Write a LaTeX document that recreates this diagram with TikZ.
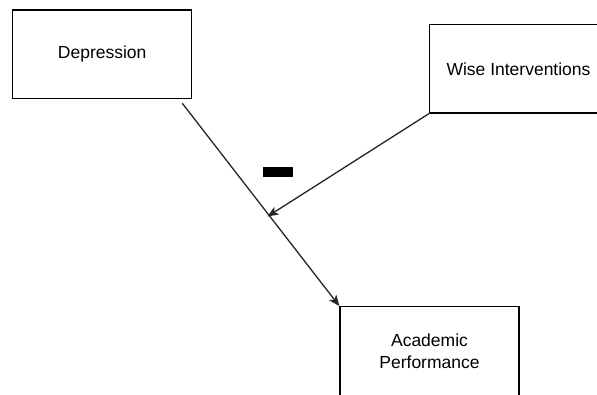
\documentclass[tikz,border=0pt]{standalone}
\usepackage{fontspec}
\setmainfont{Liberation Sans}
\usetikzlibrary{arrows.meta}
\begin{document}
\begin{tikzpicture}[x=1pt,y=-1pt,
  box/.style={draw=black,line width=1.2pt,fill=white,rectangle,inner sep=0pt,
    minimum width=179pt,minimum height=88.5pt,align=center,
    font=\fontsize{17.5}{22}\selectfont},
  link/.style={draw=black!85,line width=1.3pt,-{Stealth[length=11pt,width=9pt,inset=3pt]}}]
\useasboundingbox[fill=white] (0,0) rectangle (597,394);
\node[box] (dep) at (102.2,54.3) {Depression};
\node[box,minimum width=178pt] (wise) at (518.5,68.8) {Wise Interventions};
\node[box,minimum height=90pt] (acad) at (429.5,351.7) {Academic\\Performance};
\coordinate (s1) at (182.3,103.3);
\coordinate (m) at (267.5,216.5);
\node[fill=black,inner sep=0pt,minimum width=29.4pt,minimum height=10pt] (minus) at (278,172.3) {};
\draw[link] (s1) -- (acad.north west);
\draw[link] (wise.south west) -- (m);
\end{tikzpicture}
\end{document}
